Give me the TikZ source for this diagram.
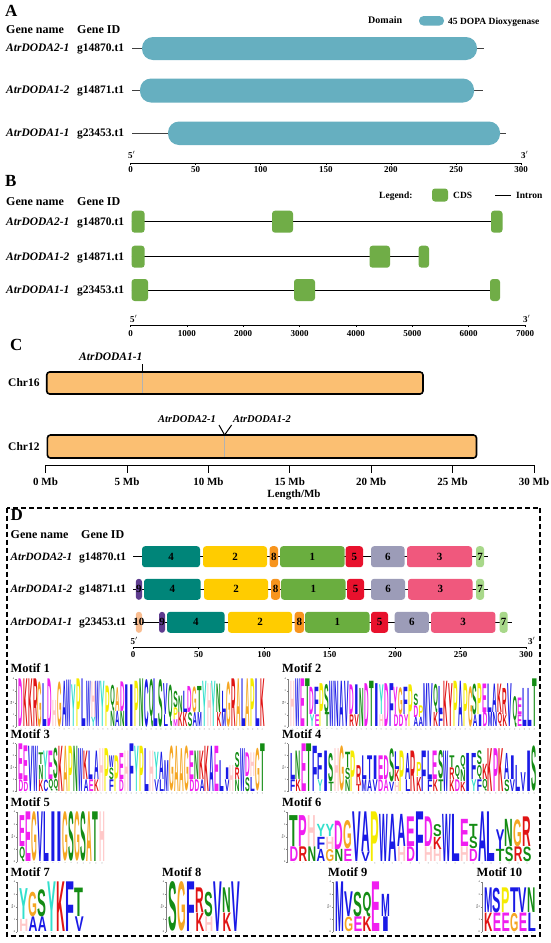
\documentclass[tikz,border=0pt]{standalone}
\usepackage{fontspec}
\usepackage{graphicx}
\setmainfont{Liberation Serif}
\newfontfamily\logofont{Liberation Sans}
\definecolor{domc}{HTML}{66AFC0}
\definecolor{cdsc}{HTML}{70AD47}
\definecolor{chrc}{HTML}{FBBF72}
\definecolor{m1}{HTML}{6AAE3F}
\definecolor{m2}{HTML}{FFCC00}
\definecolor{m3}{HTML}{F0587D}
\definecolor{m4}{HTML}{008579}
\definecolor{m5}{HTML}{E8112D}
\definecolor{m6}{HTML}{9C9CB8}
\definecolor{m7}{HTML}{A8D88A}
\definecolor{m8}{HTML}{F7941D}
\definecolor{m9}{HTML}{5E3C8F}
\definecolor{m10}{HTML}{F9BD90}
\definecolor{lB}{HTML}{1A1AE6}
\definecolor{lM}{HTML}{F01EF0}
\definecolor{lR}{HTML}{E01414}
\definecolor{lO}{HTML}{F5A623}
\definecolor{lY}{HTML}{F5EB00}
\definecolor{lC}{HTML}{33E0CC}
\definecolor{lP}{HTML}{FFC8C8}
\definecolor{lG}{HTML}{148C14}

\newcommand\mlogo[5]{%
  \foreach \cl [count=\nn] in {#5} {\xdef\ncols{\nn}}%
  \pgfmathsetmacro\cw{(#2-#1)/\ncols}%
  \pgfmathsetmacro\cwi{\cw-0.35}%
  \draw[line width=0.3pt, gray] (#1-2,#3) -- (#1-2,#3-4*#4);
  \foreach \k in {0,...,4} {
    \draw[line width=0.3pt, gray] (#1-2,#3-\k*#4) -- (#1-3.5,#3-\k*#4);
    \node[font=\fontsize{2.5}{3}\selectfont, inner sep=0pt, anchor=east] at (#1-4,#3-\k*#4) {\k};
  }
  \node[font=\fontsize{2.5}{3}\selectfont, inner sep=0pt, rotate=90] at (#1-7,#3-2*#4) {bits};
  \foreach \colm [count=\i] in {#5} {%
    \xdef\ycur{0}%
    \foreach \lt/\lcl/\lh in \colm {%
      \pgfmathsetmacro\hh{\lh*#4}%
      \pgfmathsetmacro\hhi{\hh-0.35}%
      \node[inner sep=0pt, anchor=south west, text=\lcl] at ({#1+(\i-1)*\cw},{#3-\ycur}) {\resizebox*{\cwi pt}{\hhi pt}{\logofont\bfseries\lt}};%
      \pgfmathsetmacro\ynew{\ycur+\hh}\xdef\ycur{\ynew}%
    }%
    \node[font=\fontsize{1.8}{2}\selectfont, inner sep=0pt, gray, rotate=90, anchor=east] at ({#1+(\i-0.5)*\cw},{#3+1}) {\i};
  }%
}
\newcommand\motbox[5]{%
  \fill[#4, rounded corners=3pt] (#1,#3-10.5) rectangle (#2,#3+10.5);
  \node[font=\fontsize{11}{11}\selectfont\bfseries, inner sep=0pt] at ({(#1+#2)/2},#3) {#5};
}
\newcommand\cds[3]{\fill[cdsc, rounded corners=3pt] (#1,#3-11) rectangle (#2,#3+11);}

\begin{document}
\begin{tikzpicture}[x=1pt,y=-1pt,
  lbl/.style={inner sep=0pt, anchor=west, text height=0.66em, text depth=0pt},
  hdr/.style={lbl, font=\fontsize{12}{12}\selectfont\bfseries},
  gname/.style={lbl, font=\fontsize{11.5}{12}\selectfont\bfseries\itshape},
  gid/.style={lbl, font=\fontsize{11.5}{12}\selectfont\bfseries},
  plet/.style={lbl, font=\fontsize{17}{17}\selectfont\bfseries},
  num/.style={inner sep=0pt, font=\fontsize{9}{9}\selectfont\bfseries, text height=0.66em, text depth=0pt},
  bignum/.style={inner sep=0pt, font=\fontsize{11}{11}\selectfont\bfseries, text height=0.66em, text depth=0pt},
  bb/.style={line width=0.9pt, black!75},
  motif/.style={lbl, font=\fontsize{12.5}{12}\selectfont\bfseries}]
\useasboundingbox (0,0) rectangle (550,943);
\fill[white] (0,0) rectangle (550,943);

% ---------------- Panel A
\node[plet] (pa) at (5,13) {A};
\node[lbl, font=\fontsize{10}{10}\selectfont\bfseries] (dom) at (368,20.5) {Domain};
\node[fill=domc, rounded corners=4.5pt, minimum width=25pt, minimum height=9.5pt, inner sep=0pt] (legpill) at (431.5,20.8) {};
\node[lbl, font=\fontsize{9.5}{10}\selectfont\bfseries] (legtxt) at (448,20.8) {45 DOPA Dioxygenase};
\node[hdr] (agn) at (6,30.5) {Gene name};
\node[hdr] (agi) at (77,30.5) {Gene ID};
\node[gname] (an1) at (6,48.5) {AtrDODA2-1};
\node[gid] (ai1) at (77,48.5) {g14870.t1};
\node[gname] (an2) at (6,90.5) {AtrDODA1-2};
\node[gid] (ai2) at (77,90.5) {g14871.t1};
\node[gname] (an3) at (6,133.5) {AtrDODA1-1};
\node[gid] (ai3) at (77,133.5) {g23453.t1};
\draw[bb] (132,48.5) -- (484,48.5);
\fill[domc, rounded corners=11pt] (142,37) rectangle (477,60);
\draw[bb] (132,90.5) -- (483,90.5);
\fill[domc, rounded corners=11pt] (140,78.5) rectangle (474,102.5);
\draw[bb] (132,133.5) -- (506,133.5);
\fill[domc, rounded corners=11pt] (168,121.5) rectangle (500,145);
\node[num, anchor=west] (a5) at (128,155) {5$'$};
\node[num, anchor=west] (a3) at (521,155) {3$'$};
\draw[line width=0.6pt] (130.5,163) -- (521,163);
\foreach \k/\lab in {0/0,1/50,2/100,3/150,4/200,5/250,6/300} {
  \draw[line width=0.6pt] (130.5+65.1*\k,163) -- ++(0,2);
  \node[num] at (130.5+65.1*\k,169.5) {\lab};
}

% ---------------- Panel B
\node[plet] (pb) at (5,183) {B};
\node[lbl, font=\fontsize{9.5}{10}\selectfont\bfseries] (leg) at (379,195) {Legend:};
\fill[cdsc, rounded corners=3pt] (432,188.5) rectangle (448,201.5);
\node[lbl, font=\fontsize{9.5}{10}\selectfont\bfseries] (cdst) at (453,195) {CDS};
\draw[line width=1pt] (495,195) -- (511,195);
\node[lbl, font=\fontsize{9.5}{10}\selectfont\bfseries] (intr) at (516,195) {Intron};
\node[hdr] (bgn) at (6,201.7) {Gene name};
\node[hdr] (bgi) at (77,201.7) {Gene ID};
\node[gname] (bn1) at (6,221.7) {AtrDODA2-1};
\node[gid] (bi1) at (77,221.7) {g14870.t1};
\node[gname] (bn2) at (6,256.7) {AtrDODA1-2};
\node[gid] (bi2) at (77,256.7) {g14871.t1};
\node[gname] (bn3) at (6,290) {AtrDODA1-1};
\node[gid] (bi3) at (77,290) {g23453.t1};
\draw[line width=0.8pt] (131.6,221.7) -- (502,221.7);
\cds{131.6}{144.6}{221.7}\cds{272}{293}{221.7}\cds{491}{502.5}{221.7}
\draw[line width=0.8pt] (131.6,256.7) -- (429,256.7);
\cds{131.6}{144.6}{256.7}\cds{369.5}{390}{256.7}\cds{418.6}{429}{256.7}
\draw[line width=0.8pt] (131.6,290) -- (500,290);
\cds{131.6}{148}{290}\cds{294}{315}{290}\cds{490}{500}{290}
\node[num, anchor=west] (b5) at (130,319) {5$'$};
\node[num, anchor=west] (b3) at (523,319) {3$'$};
\draw[line width=0.6pt] (130.5,325) -- (525,325);
\foreach \k/\lab in {0/0,1/1000,2/2000,3/3000,4/4000,5/5000,6/6000,7/7000} {
  \draw[line width=0.6pt] (130.5+56.36*\k,325) -- ++(0,2);
  \node[num] at (130.5+56.36*\k,333) {\lab};
}

% ---------------- Panel C
\node[plet] (pc) at (10,347) {C};
\node[gname] (c11) at (79,357) {AtrDODA1-1};
\draw[line width=1pt] (142,364) -- (142,372);
\filldraw[fill=chrc, draw=black, line width=1.6pt, rounded corners=3pt] (46.7,372) rectangle (423,394);
\draw[line width=0.6pt, black!30] (142,373) -- (142,393);
\node[gid] (chr16) at (8,383) {Chr16};
\node[lbl, font=\fontsize{10.5}{11}\selectfont\bfseries\itshape] (c21) at (158,419) {AtrDODA2-1};
\node[lbl, font=\fontsize{10.5}{11}\selectfont\bfseries\itshape] (c12) at (233,419) {AtrDODA1-2};
\draw[line width=1pt] (219,425) -- (224.6,435) -- (231.6,425);
\filldraw[fill=chrc, draw=black, line width=1.6pt, rounded corners=3pt] (47.4,435) rectangle (476.5,458);
\draw[line width=0.6pt, black!30] (224.6,436) -- (224.6,457);
\node[gid] (chr12) at (8,447) {Chr12};
\draw[line width=0.8pt] (45.6,465) -- (534,465);
\foreach \k/\lab in {0/0,1/5,2/10,3/15,4/20,5/25,6/30} {
  \draw[line width=0.8pt] (45.6+81.4*\k,465) -- ++(0,8);
  \node[bignum] at (45.6+81.4*\k,482) {\lab\ Mb};
}
\node[bignum] (lenmb) at (294,494) {Length/Mb};

% ---------------- Panel D
\draw[line width=1.6pt, dash pattern=on 5pt off 3pt] (7,507.7) rectangle (540,936);
\node[plet] (pd) at (10.5,516.7) {D};
\node[hdr] (dgn) at (10.5,535) {Gene name};
\node[hdr] (dgi) at (81,535) {Gene ID};
\node[lbl, font=\fontsize{11.2}{12}\selectfont\bfseries\itshape] (dn1) at (10.5,556.7) {AtrDODA2-1};
\node[gid] (di1) at (79,556.7) {g14870.t1};
\node[lbl, font=\fontsize{11.2}{12}\selectfont\bfseries\itshape] (dn2) at (10.5,589.3) {AtrDODA1-2};
\node[gid] (di2) at (79,589.3) {g14871.t1};
\node[lbl, font=\fontsize{11.2}{12}\selectfont\bfseries\itshape] (dn3) at (10.5,622.3) {AtrDODA1-1};
\node[gid] (di3) at (79,622.3) {g23453.t1};
% row 1
\draw[line width=0.8pt] (133,556.7) -- (488,556.7);
\motbox{142}{200}{556.7}{m4}{4}
\motbox{203}{267}{556.7}{m2}{2}
\motbox{269.5}{278}{556.7}{m8}{8}
\motbox{280}{344.6}{556.7}{m1}{1}
\motbox{345.6}{363}{556.7}{m5}{5}
\motbox{371}{404.6}{556.7}{m6}{6}
\motbox{407}{472}{556.7}{m3}{3}
\motbox{476}{484}{556.7}{m7}{7}
% row 2
\draw[line width=0.8pt] (133,589.3) -- (487.7,589.3);
\motbox{135.8}{142}{589.3}{m9}{9}
\motbox{144}{200.7}{589.3}{m4}{4}
\motbox{204}{268}{589.3}{m2}{2}
\motbox{271}{280}{589.3}{m8}{8}
\motbox{281}{345.6}{589.3}{m1}{1}
\motbox{347}{364}{589.3}{m5}{5}
\motbox{371}{405}{589.3}{m6}{6}
\motbox{408}{472.6}{589.3}{m3}{3}
\motbox{476}{484}{589.3}{m7}{7}
% row 3
\draw[line width=0.8pt] (133,622.3) -- (512,622.3);
\motbox{135.8}{142}{622.3}{m10}{10}
\motbox{159}{165}{622.3}{m9}{9}
\motbox{167}{224.6}{622.3}{m4}{4}
\motbox{228}{292}{622.3}{m2}{2}
\motbox{294.7}{304}{622.3}{m8}{8}
\motbox{305}{369.5}{622.3}{m1}{1}
\motbox{371}{388}{622.3}{m5}{5}
\motbox{394.7}{428.8}{622.3}{m6}{6}
\motbox{431}{495.4}{622.3}{m3}{3}
\motbox{499.6}{507.7}{622.3}{m7}{7}
\node[num, anchor=west] (d5) at (130.5,640.7) {5$'$};
\node[num, anchor=west] (d3) at (528,640.7) {3$'$};
\draw[line width=0.6pt] (133,647.3) -- (526,647.3);
\foreach \k/\lab in {0/0,1/50,2/100,3/150,4/200,5/250,6/300} {
  \draw[line width=0.6pt] (133+65.5*\k,647.3) -- ++(0,2);
  \node[num] at (133+65.5*\k,654.3) {\lab};
}

% motif titles
\node[motif] (mt1) at (10.5,669) {Motif 1};
\node[motif] (mt2) at (282,669) {Motif 2};
\node[motif] (mt3) at (10.5,735) {Motif 3};
\node[motif] (mt4) at (282,735) {Motif 4};
\node[motif] (mt5) at (10.5,803) {Motif 5};
\node[motif] (mt6) at (282,803) {Motif 6};
\node[motif] (mt7) at (10.5,873) {Motif 7};
\node[motif] (mt8) at (162,873) {Motif 8};
\node[motif] (mt9) at (328,873) {Motif 9};
\node[motif] (mt10) at (476.5,873) {Motif 10};

% logos
\mlogo{18.3}{265}{727}{12}{{D/lM/4},{K/lR/4},{K/lR/4},{R/lR/4},{G/lO/3.8},{L/lB/3.6},{D/lM/4},{H/lP/2.2},{G/lO/3.8},{A/lB/3.8},{W/lB/3.9},{Y/lC/3.5},{P/lY/4},{L/lB/4},{W/lB/3.8},{Y/lC/0.8,H/lP/3},{W/lB/3.8},{Y/lC/3.8},{P/lY/3.4},{N/lG/1.3,Q/lG/2.2},{A/lB/1.3,A/lO/2.0},{N/lG/1.3,D/lM/2.5},{I/lB/3.5},{I/lB/3.5},{P/lY/3.8},{N/lG/4},{C/lB/4},{Q/lG/4},{L/lB/4},{S/lG/4},{L/lB/1.0,V/lB/2.6},{Q/lG/3.5},{M/lM/0.6,P/lY/1.0,S/lG/1.4},{K/lR/1.2,N/lG/1.4},{K/lR/1.2,L/lB/1.8},{S/lG/1.2,D/lM/2.2},{A/lB/1.2,G/lO/2.2},{M/lB/1.2,T/lG/2.2},{Y/lC/3.8},{H/lP/3.6},{Y/lC/3.8},{K/lR/1.2,N/lG/2.4},{M/lB/1.2,L/lB/1.8},{G/lO/3.8},{R/lR/4},{A/lO/4},{L/lB/4},{A/lO/4},{P/lY/4},{L/lB/4},{K/lR/4}}

\mlogo{290}{537}{727}{12}{{H/lP/3.8},{W/lB/4},{E/lM/4},{T/lG/4},{Y/lC/1.0,D/lM/2.3},{E/lM/1.0,F/lB/2.3},{P/lY/3.6},{T/lG/1.2,S/lG/2.4},{W/lB/3.8},{N/lB/3.8},{A/lB/3.8},{V/lB/3.8},{R/lR/1.0,D/lM/2.5},{V/lR/1.0,I/lB/2.5},{N/lG/3.2},{D/lM/3.6},{T/lG/3.8},{I/lB/3.6},{H/lP/1.0,Y/lC/2.5},{D/lM/3.6},{F/lB/3.6},{D/lM/1.0,Y/lM/2.3},{D/lM/1.0,G/lO/2.3},{Y/lM/1.0,F/lB/2.3},{P/lY/3.5},{A/lB/0.8,D/lM/1.0,S/lG/1.0},{A/lB/0.8,P/lY/1.0},{M/lB/3.6},{V/lB/3.6},{K/lR/1.2,Q/lG/2.4},{F/lB/1.2,L/lB/2.2},{K/lR/3.8},{Y/lR/3.6},{P/lY/3.8},{A/lB/3.8},{P/lY/3.6},{G/lO/3.4},{A/lB/1.0,S/lG/2.6},{I/lB/1.0,P/lY/2.6},{D/lM/1.2,E/lM/2.4},{M/lB/1.2,L/lB/2.4},{N/lB/1.2,A/lB/2.4},{Q/lR/1.2,K/lR/2.4},{K/lR/1.0,R/lR/2.2},{V/lB/3.6},{Q/lG/2.6},{E/lM/1.0,E/lM/1.4},{L/lB/3.2},{L/lB/3.2},{T/lG/4}}

\mlogo{18.3}{265}{791.5}{12}{{D/lM/1.0,E/lM/3.0},{D/lM/0.8,E/lM/3.0},{V/lB/3.8},{W/lB/3.8},{K/lR/1.0,N/lG/1.2,T/lG/1.0},{C/lB/1.0,Y/lC/2.4},{Q/lG/1.0,E/lM/2.4},{Q/lG/1.0,S/lG/2.6},{K/lR/3.8},{A/lO/3.8},{P/lY/3.8},{N/lG/3.8},{W/lB/3.6},{A/lB/1.0,K/lR/2.4},{E/lM/1.0,L/lB/2.4},{K/lR/1.0,A/lB/2.4},{H/lP/3.6},{P/lY/3.6},{F/lB/1.0,S/lG/1.0,W/lB/1.0},{P/lY/3.0},{D/lM/1.0,E/lM/2.2},{H/lP/3.4},{F/lB/4},{Y/lC/3.8},{P/lY/3.8},{L/lB/3.6},{H/lP/3.4},{V/lB/1.0,Y/lC/2.3},{L/lB/1.0,A/lB/2.3},{M/lB/2.6},{G/lO/3.8},{A/lO/3.8},{A/lO/3.6},{G/lO/3.8},{D/lM/1.0,E/lM/2.4},{D/lM/1.0,N/lG/2.4},{A/lB/1.0,K/lR/2.4},{K/lR/3.8},{A/lB/3.8},{E/lM/3.8},{L/lB/2.6},{V/lB/1.0,I/lB/1.0},{H/lP/2.2},{N/lG/1.0,R/lR/1.0,S/lG/1.3},{W/lB/3.6},{S/lG/1.2,D/lM/2.0},{L/lB/1.2,H/lP/2.0},{G/lO/3.6},{T/lG/4}}

\mlogo{290}{537}{791.5}{12}{{F/lB/1.0,L/lB/2.2},{K/lR/1.0,N/lG/2.4},{E/lM/4},{T/lG/4},{F/lB/3.8},{Y/lC/1.0,F/lB/2.2},{I/lB/3.4},{T/lG/0.8,S/lG/2.4},{H/lP/3.6},{G/lO/3.8},{N/lG/1.0,S/lG/1.0,T/lG/1.3},{P/lY/3.4},{T/lR/0.6,R/lR/1.6},{M/lB/1.0,L/lB/2.0},{A/lB/1.0,T/lB/2.0},{V/lB/1.0,I/lB/2.0},{D/lM/1.0,E/lM/2.0},{A/lM/1.0,D/lM/2.0},{V/lB/0.8,S/lG/2.8},{H/lP/0.8,K/lR/1.0,L/lB/1.5},{P/lY/3.4},{L/lB/1.0,A/lB/2.2},{R/lR/3.4},{K/lR/1.2,P/lY/1.2},{F/lB/3.4},{F/lB/1.0,L/lB/2.4},{K/lR/1.0,E/lM/2.4},{T/lG/1.0,S/lG/2.4},{W/lB/3.4},{K/lR/1.0,R/lR/1.0,T/lG/1.0},{D/lM/1.0,Q/lG/1.2},{K/lR/0.8,N/lG/1.0,Q/lG/1.2},{I/lB/3.2},{Y/lC/1.0,F/lB/2.2},{F/lB/1.0,Q/lG/1.2,S/lG/1.2},{Q/lG/1.0,K/lR/1.3},{K/lR/3.6},{P/lM/3.6},{K/lR/3.6},{S/lG/1.0,A/lB/2.2},{V/lB/1.0,I/lB/2.0},{L/lB/2.2},{V/lB/1.6},{I/lB/3.4},{S/lG/3.8}}

\mlogo{19.3}{105}{861.7}{12.5}{{Q/lG/1.2,E/lM/2.5},{E/lM/4},{G/lO/4},{V/lB/4},{L/lB/4},{I/lB/4},{I/lB/4},{G/lO/4},{S/lG/4},{G/lO/4},{S/lG/4},{A/lO/4},{T/lG/4},{H/lP/4}}

\mlogo{289.5}{531.6}{861.7}{12.5}{{D/lM/1.2,T/lG/2.5},{R/lR/1.2,P/lM/2.5},{N/lG/1.2,H/lP/2.5},{A/lB/1.0,F/lB/1.0,Y/lC/1.0},{G/lO/1.0,H/lP/1.0,Y/lC/1.0},{N/lG/1.0,D/lM/2.3},{E/lM/1.0,G/lO/2.3},{V/lB/4},{V/lB/0.8,A/lB/3.2},{P/lY/4},{W/lB/3.8},{A/lB/3.8},{H/lP/1.2,A/lB/2.6},{D/lM/1.2,E/lM/2.4},{F/lB/4},{H/lP/1.2,D/lM/2.4},{H/lP/1.0,K/lR/1.0,S/lG/1.0},{W/lB/3.8},{L/lB/3.8},{H/lP/1.2,E/lM/2.2},{D/lM/1.0,S/lG/1.0,T/lG/1.0},{A/lB/4},{L/lB/4},{T/lG/1.0,Y/lB/1.6},{S/lG/1.2,N/lG/2.2},{R/lR/1.2,G/lO/2.2},{S/lG/1.2,R/lR/2.4}}

\mlogo{19.3}{84}{931.7}{12.5}{{H/lP/1.0,Y/lC/2.5},{A/lB/1.2,G/lO/2.0},{A/lB/1.2,S/lG/2.2},{Y/lC/4},{K/lR/4},{F/lB/4},{V/lB/1.2,T/lG/2.3}}

\mlogo{168.4}{240.4}{931.7}{12.5}{{S/lG/4},{G/lO/4},{F/lB/4},{K/lR/1.5,R/lR/2.0},{H/lP/1.2,S/lG/2.0},{V/lB/4},{K/lR/1.5,N/lG/2.0},{V/lB/4}}

\mlogo{335}{390}{931.7}{12.5}{{M/lB/4},{G/lO/1.2,V/lB/2.0},{E/lM/1.2,S/lG/2.0},{K/lR/1.2,Q/lG/2.0},{E/lM/4},{I/lB/1.2,M/lB/1.8}}

\mlogo{484}{536}{931.7}{12.5}{{K/lR/1.5,M/lB/2.0},{E/lM/1.5,S/lB/2.0},{E/lM/1.5,P/lY/2.0},{G/lO/1.5,T/lB/2.0},{E/lM/1.5,V/lB/2.0},{L/lB/1.5,N/lG/2.0}}

\end{tikzpicture}
\end{document}
